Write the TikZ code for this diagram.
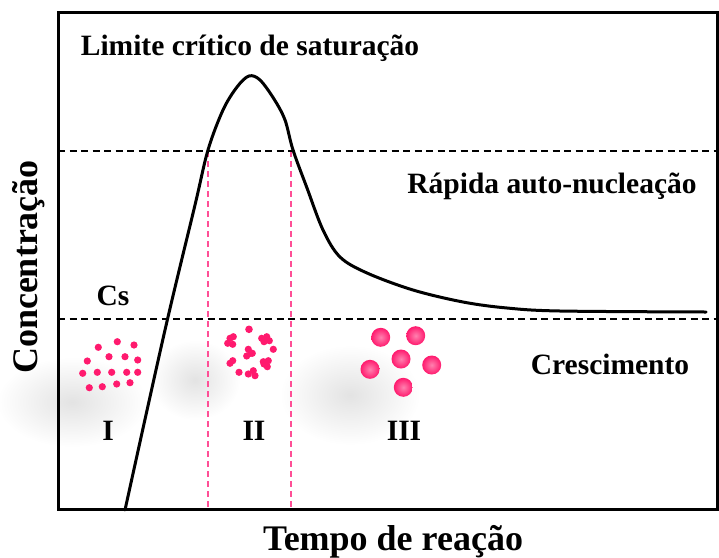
\documentclass[tikz,border=0pt]{standalone}
\usepackage{fontspec}
\setmainfont{Liberation Serif}
\usepackage{xcolor}
\usepackage{tikz}
\usetikzlibrary{positioning}

\definecolor{nucpink}{HTML}{FF1A6E}
\definecolor{guidepink}{HTML}{FF4F96}
\tikzset{
	axisframe/.style={line width=3pt},
	levelline/.style={line width=2.2pt, dash pattern=on 7pt off 4.5pt},
	phaseline/.style={guidepink, line width=2.2pt, dash pattern=on 6pt off 4pt},
	lbl/.style={inner sep=0pt, anchor=base, font=\fontsize{29.5}{32}\selectfont\bfseries},
	axislbl/.style={inner sep=0pt, anchor=base, font=\fontsize{36}{40}\selectfont\bfseries},
	seed/.style={fill=nucpink},
	grain/.style={inner color=nucpink!55!white, outer color=nucpink},
	haze/.style={inner color=black!11, outer color=white},
}

\begin{document}
\begin{tikzpicture}[x=1pt, y=-1pt]
	\useasboundingbox (0,0) rectangle (719,557);
	\begin{scope}[blend mode=multiply]
		\shade[haze] (72,402) ellipse (75 and 45);
		\shade[haze] (195,380) ellipse (45 and 40);
		\shade[haze] (350,395) ellipse (70 and 50);
	\end{scope}
	\coordinate (tl) at (58,12);
	\coordinate (br) at (717,509);
	\coordinate (hiL) at (58,151);
	\coordinate (hiR) at (719,151);
	\coordinate (csL) at (58,319);
	\coordinate (csR) at (719,319);
	\coordinate (p1) at (208,151);
	\coordinate (p1b) at (208,509);
	\coordinate (p2) at (291,151);
	\coordinate (p2b) at (291,509);
	\draw[phaseline] (p1) -- (p1b);
	\draw[phaseline] (p2) -- (p2b);
	\draw[levelline] (hiL) -- (hiR);
	\draw[levelline] (csL) -- (csR);
	\draw[line width=3pt, line cap=round, line join=round] plot[smooth, tension=0.55] coordinates {
		(125,510) (165,330) (195,205) (208,150) (223,110) (237,87) (249,76) (260,80)
		(274,99) (285,120) (293,150) (307,188) (323,230) (340,257) (367,273)
		(413,290) (463,302) (507,308) (560,311) (706,312)};
	\draw[axisframe] (tl) rectangle (br);
	\node[lbl] (limite) at (250,55) {Limite crítico de saturação};
	\node[lbl] (rapida) at (552,193) {Rápida auto-nucleação};
	\node[lbl] (cs) at (113,305) {Cs};
	\node[lbl] (cresc) at (610,374) {Crescimento};
	\node[lbl] (fase1) at (108,440) {I};
	\node[lbl] (fase2) at (254,440) {II};
	\node[lbl] (fase3) at (404,440) {III};
	\node[axislbl] (tempo) at (393,550) {Tempo de reação};
	\node[axislbl, rotate=90] (conc) at (37,267) {Concentração};
	\fill[seed] (98.3,347.3) circle (3.6);
	\fill[seed] (117.3,341.7) circle (3.6);
	\fill[seed] (134,345) circle (3.6);
	\fill[seed] (87.3,361) circle (3.6);
	\fill[seed] (109,356.7) circle (3.6);
	\fill[seed] (125,356.7) circle (3.6);
	\fill[seed] (137.7,360) circle (3.6);
	\fill[seed] (82.7,373.3) circle (3.6);
	\fill[seed] (97.3,372.3) circle (3.6);
	\fill[seed] (111.7,372.3) circle (3.6);
	\fill[seed] (126.7,372.3) circle (3.6);
	\fill[seed] (137.7,372.3) circle (3.6);
	\fill[seed] (89.3,387.7) circle (3.6);
	\fill[seed] (102.3,386.7) circle (3.6);
	\fill[seed] (116.7,384) circle (3.6);
	\fill[seed] (130,382.7) circle (3.6);
	\fill[seed] (230,338.3) circle (3.6);
	\fill[seed] (233.3,336.7) circle (3.6);
	\fill[seed] (227.7,343.3) circle (3.6);
	\fill[seed] (232.7,344.3) circle (3.6);
	\fill[seed] (249,329.3) circle (3.8);
	\fill[seed] (261.7,338.3) circle (3.6);
	\fill[seed] (266.7,336.7) circle (3.6);
	\fill[seed] (269.3,340.7) circle (3.6);
	\fill[seed] (264,341.7) circle (3.6);
	\fill[seed] (273.3,349.3) circle (3.6);
	\fill[seed] (248.3,349.3) circle (3.6);
	\fill[seed] (250.7,353.3) circle (3.6);
	\fill[seed] (246.7,356) circle (3.6);
	\fill[seed] (252.3,353.3) circle (3.6);
	\fill[seed] (230,363.3) circle (3.6);
	\fill[seed] (232.7,360.7) circle (3.6);
	\fill[seed] (263.3,361.7) circle (3.6);
	\fill[seed] (268.3,360.7) circle (3.6);
	\fill[seed] (267.3,366.7) circle (3.6);
	\fill[seed] (264,364) circle (3.6);
	\fill[seed] (239,372.3) circle (3.6);
	\fill[seed] (248.3,374) circle (3.6);
	\fill[seed] (253.3,370.7) circle (3.6);
	\fill[seed] (255,375.7) circle (3.6);
	\shade[grain] (380.7,337.3) circle (9.5);
	\shade[grain] (415.7,335.7) circle (9.5);
	\shade[grain] (401,359) circle (9.5);
	\shade[grain] (370,369.3) circle (9.5);
	\shade[grain] (431.7,365) circle (9.5);
	\shade[grain] (403.3,387.3) circle (9.5);
\end{tikzpicture}
\end{document}
